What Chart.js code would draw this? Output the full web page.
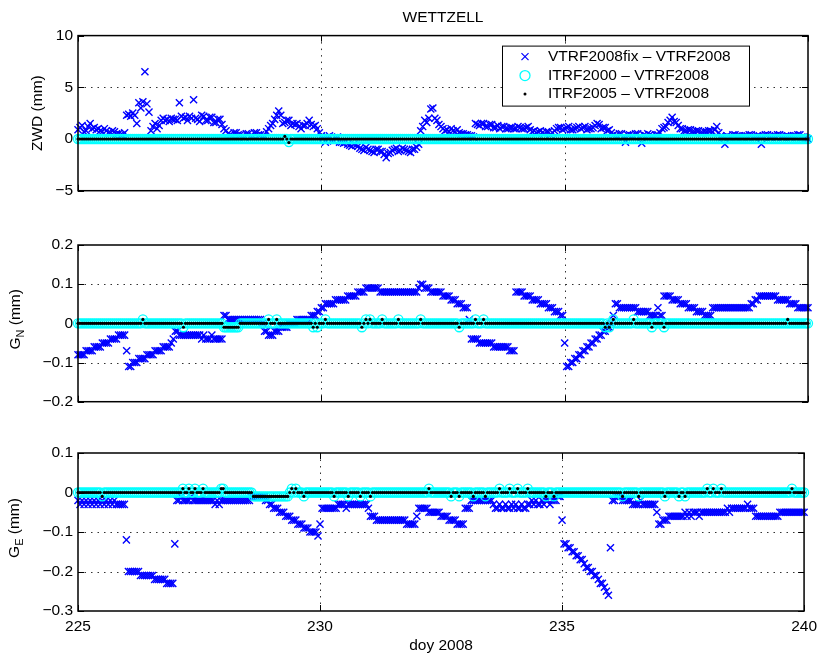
<!DOCTYPE html>
<html><head><meta charset="utf-8">
<script src="https://cdn.jsdelivr.net/npm/chart.js@4.4.1/dist/chart.umd.min.js"></script>
<style>
html,body{margin:0;padding:0;background:#fff;overflow:hidden;width:823px;height:653px;}
canvas{position:absolute;left:0;}
</style></head><body>
<canvas id="c1" width="823" height="205" style="top:0px"></canvas>
<canvas id="c2" width="823" height="201" style="top:215px"></canvas>
<canvas id="c3" width="823" height="233" style="top:420px"></canvas>
<script>
// ---- text ----
const stationTitle = 'WETTZELL';
const xAxisTitle = 'doy 2008';
const seriesLabels = ['VTRF2008fix \u2013 VTRF2008', 'ITRF2000 \u2013 VTRF2008', 'ITRF2005 \u2013 VTRF2008'];
const yTitleParts = [['ZWD', '', ' (mm)'], ['G', 'N', ' (mm)'], ['G', 'E', ' (mm)']];

// ---- ticks ----
const xTicks = [225, 230, 235, 240];
const zwdTicks = [-5, 0, 5, 10];
const gnTicks = [-0.2, -0.1, 0, 0.1, 0.2];
const geTicks = [-0.3, -0.2, -0.1, 0, 0.1];

// ---- sampling: hourly epochs, day 225.0 .. 240.0 (one row per day) ----
const dayStart = 225;
const samplesPerDay = 24;

// ---- ZWD (mm) ----
const zwdFix = [
 0.9,1.1,1.3,0.7,0.8,1.2, 1.5,1.0,1.1,0.9,1.0,0.8, 0.7,1.0,0.8,0.6,0.6,0.8, 0.7,0.5,0.5,0.4,0.4,0.6,
 2.3,2.4,2.2,2.5,2.3,1.5, 3.5,3.0,3.6,6.5,3.4,2.6, 0.8,1.2,1.5,1.0,1.3,1.8, 2.0,1.8,1.9,1.7,2.0,1.9,
 1.9,1.8,3.5,2.2,2.0,2.1, 1.8,2.2,2.0,3.8,2.0,1.9, 1.7,2.3,2.2,1.8,1.8,2.1, 2.1,1.6,1.6,1.9,1.9,1.4,
 1.0,0.8,0.5,0.4,0.3,0.6, 0.6,0.4,0.4,0.3,0.2,0.5, 0.5,0.3,0.3,0.6,0.6,0.4, 0.4,0.3,0.3,0.7,1.0,1.3,
 1.5,1.9,2.3,2.7,2.3,1.5, 1.6,1.8,1.8,1.3,1.5,1.4, 1.5,1.2,1.0,1.3,1.3,1.5, 1.8,1.4,1.2,1.3,1.0,0.6,
 0.3,0.1,-0.3,0.2,0.3,-0.1, -0.2,0.1,0.2,-0.3,-0.3,-0.4, -0.3,-0.5,-0.6,-0.7,-0.5,-0.6, -0.7,-0.9,-1.0,-1.1,-0.8,-1.0,
 -1.1,-1.2,-1.3,-1.0,-1.0,-1.2, -1.2,-1.5,-1.8,-1.4,-1.3,-1.1, -1.0,-0.9,-1.2,-1.1,-0.9,-1.0, -1.1,-1.2,-1.3,-1.0,-1.0,-0.8,
 -0.5,0.8,1.2,1.8,1.6,2.0, 2.9,3.0,2.0,1.8,1.4,1.2, 1.0,0.8,0.9,0.7,1.0,0.8, 0.7,0.9,0.6,0.5,0.5,0.4,
 0.4,0.3,0.3,0.2,1.5,1.4, 1.3,1.5,1.5,1.2,1.2,1.4, 1.4,1.1,1.1,1.3,1.0,1.2, 1.2,1.0,1.0,1.1,1.1,1.0,
 1.0,1.2,1.1,1.0,1.0,1.1, 1.2,0.9,0.7,0.8,0.6,0.7, 0.8,0.6,0.5,0.7,0.7,0.4, 0.6,0.8,1.0,1.1,1.1,0.9,
 1.0,1.1,1.2,0.9,0.9,1.0, 1.1,1.2,1.0,1.1,1.2,0.9, 1.0,1.0,1.1,1.3,1.5,1.4, 1.0,1.1,1.1,0.8,0.9,0.6,
 0.4,0.3,0.3,0.5,0.5,0.2, -0.3,0.4,0.4,0.3,0.3,0.5, 0.5,0.3,-0.4,0.4,0.3,0.5, 0.4,0.3,0.2,0.4,0.4,0.6,
 1.0,1.1,1.2,1.6,1.8,2.1, 1.7,1.6,1.3,1.0,1.0,0.8, 0.8,0.9,0.9,0.7,0.7,0.8, 0.8,0.6,0.6,0.7,0.7,0.8,
 0.8,0.7,0.9,1.2,0.6,0.3, 0.2,-0.5,0.3,0.2,0.2,0.4, 0.4,0.3,0.3,0.2,0.2,0.3, 0.3,0.4,0.4,0.2,0.2,0.3,
 0.3,-0.5,0.3,0.4,0.4,0.2, 0.2,0.3,0.3,0.4,0.4,0.2, 0.2,0.3,0.3,0.2,0.2,0.3, 0.3,0.4,0.4,0.2,0.2,0.1,
 0.0];
const zwdItrf2000 = [
 0,0,0,0,0,0, 0,0,0,0,0,0, 0,0,0,0,0,0, 0,0,0,0,0,0,
 0,0,0,0,0,0, 0,0,0,0,0,0, 0,0,0,0,0,0, 0,0,0,0,0,0,
 0,0,0,0,0,0, 0,0,0,0,0,0, 0,0,0,0,0,0, 0,0,0,0,0,0,
 0,0,0,0,0,0, 0,0,0,0,0,0, 0,0,0,0,0,0, 0,0,0,0,0,0,
 0,0,0,0,0,0, 0,0,-0.3,0,0,0, 0,0,0,0,0,0, 0,0,0,0,0,0,
 0,0,0,0,0,0, 0,0,0,0,0,0, 0,0,0,0,0,0, 0,0,0,0,0,0,
 0,0,0,0,0,0, 0,0,0,0,0,0, 0,0,0,0,0,0, 0,0,0,0,0,0,
 0,0,0,0,0,0, 0,0,0,0,0,0, 0,0,0,0,0,0, 0,0,0,0,0,0,
 0,0,0,0,0,0, 0,0,0,0,0,0, 0,0,0,0,0,0, 0,0,0,0,0,0,
 0,0,0,0,0,0, 0,0,0,0,0,0, 0,0,0,0,0,0, 0,0,0,0,0,0,
 0,0,0,0,0,0, 0,0,0,0,0,0, 0,0,0,0,0,0, 0,0,0,0,0,0,
 0,0,0,0,0,0, 0,0,0,0,0,0, 0,0,0,0,0,0, 0,0,0,0,0,0,
 0,0,0,0,0,0, 0,0,0,0,0,0, 0,0,0,0,0,0, 0,0,0,0,0,0,
 0,0,0,0,0,0, 0,0,0,0,0,0, 0,0,0,0,0,0, 0,0,0,0,0,0,
 0,0,0,0,0,0, 0,0,0,0,0,0, 0,0,0,0,0,0, 0,0,0,0,0,0,
 0];
const zwdItrf2005 = [
 0,0,0,0,0,0, 0,0,0,0,0,0, 0,0,0,0,0,0, 0,0,0,0,0,0,
 0,0,0,0,0,0, 0,0,0,0,0,0, 0,0,0,0,0,0, 0,0,0,0,0,0,
 0,0,0,0,0,0, 0,0,0,0,0,0, 0,0,0,0,0,0, 0,0,0,0,0,0,
 0,0,0,0,0,0, 0,0,0,0,0,0, 0,0,0,0,0,0, 0,0,0,0,0,0,
 0,0,0,0,0,0, 0.25,0,-0.35,0,0,0, 0,0,0,0,0,0, 0,0,0,0,0,0,
 0,0,0,0,0,0, 0,0,0,0,0,0, 0,0,0,0,0,0, 0,0,0,0,0,0,
 0,0,0,0,0,0, 0,0,0,0,0,0, 0,0,0,0,0,0, 0,0,0,0,0,0,
 0,0,0,0,0,0, 0,0,0,0,0,0, 0,0,0,0,0,0, 0,0,0,0,0,0,
 0,0,0,0,0,0, 0,0,0,0,0,0, 0,0,0,0,0,0, 0,0,0,0,0,0,
 0,0,0,0,0,0, 0,0,0,0,0,0, 0,0,0,0,0,0, 0,0,0,0,0,0,
 0,0,0,0,0,0, 0,0,0,0,0,0, 0,0,0,0,0,0, 0,0,0,0,0,0,
 0,0,0,0,0,0, 0,0,0,0,0,0, 0,0,0,0,0,0, 0,0,0,0,0,0,
 0,0,0,0,0,0, 0,0,0,0,0,0, 0,0,0,0,0,0, 0,0,0,0,0,0,
 0,0,0,0,0,0, 0,0,0,0,0,0, 0,0,0,0,0,0, 0,0,0,0,0,0,
 0,0,0,0,0,0, 0,0,0,0,0,0, 0,0,0,0,0,0, 0,0,0,0,0,0,
 0];

// ---- G_N (mm) ----
const gnFix = [
 -0.08,-0.08,-0.08,-0.08,-0.07,-0.07, -0.07,-0.07,-0.06,-0.06,-0.06,-0.06, -0.05,-0.05,-0.05,-0.05,-0.04,-0.04, -0.04,-0.04,-0.03,-0.03,-0.03,-0.03,
 -0.07,-0.11,-0.11,-0.10,-0.10,-0.10, -0.09,-0.09,-0.09,-0.09,-0.08,-0.08, -0.08,-0.08,-0.07,-0.07,-0.07,-0.07, -0.06,-0.06,-0.06,-0.06,-0.05,-0.04,
 -0.02,-0.02,-0.03,-0.03,-0.03,-0.03, -0.03,-0.03,-0.03,-0.03,-0.03,-0.03, -0.03,-0.04,-0.03,-0.04,-0.04,-0.04, -0.03,-0.04,-0.04,-0.04,-0.04,-0.04,
 0.02,0.02,0.01,0.01,0.01,0.01, 0.01,0.01,0.01,0.01,0.01,0.01, 0.01,0.01,0.01,0.01,0.01,0.01, 0.01,0.00,-0.02,-0.02,-0.03,-0.03,
 -0.03,-0.02,-0.02,-0.02,-0.01,-0.01, -0.01,-0.01,0.00,0.00,0.00,0.00, 0.01,0.01,0.01,0.01,0.01,0.01, 0.01,0.02,0.02,0.02,0.03,0.03,
 0.04,0.04,0.05,0.05,0.05,0.05, 0.05,0.06,0.06,0.06,0.06,0.06, 0.06,0.07,0.07,0.07,0.07,0.07, 0.08,0.08,0.08,0.08,0.09,0.09,
 0.09,0.09,0.09,0.09,0.09,0.08, 0.08,0.08,0.08,0.08,0.08,0.08, 0.08,0.08,0.08,0.08,0.08,0.08, 0.08,0.08,0.08,0.08,0.08,0.08,
 0.09,0.10,0.10,0.09,0.09,0.09, 0.08,0.08,0.08,0.08,0.08,0.08, 0.07,0.07,0.07,0.07,0.06,0.06, 0.06,0.05,0.05,0.05,0.04,0.04,
 0.04,0.01,-0.04,-0.04,-0.04,-0.04, -0.05,-0.05,-0.05,-0.05,-0.05,-0.05, -0.05,-0.06,-0.06,-0.06,-0.06,-0.06, -0.06,-0.06,-0.06,-0.07,-0.07,-0.07,
 0.08,0.08,0.08,0.08,0.07,0.07, 0.07,0.07,0.06,0.06,0.06,0.06, 0.05,0.05,0.05,0.05,0.04,0.04, 0.04,0.03,0.03,0.03,0.02,0.02,
 -0.05,-0.11,-0.11,-0.10,-0.10,-0.09, -0.09,-0.08,-0.08,-0.07,-0.07,-0.06, -0.06,-0.05,-0.05,-0.04,-0.04,-0.03, -0.03,-0.02,-0.02,-0.01,-0.01,0.00,
 0.02,0.05,0.05,0.04,0.04,0.04, 0.04,0.04,0.04,0.04,0.04,0.04, 0.03,0.03,0.03,0.03,0.03,0.03, 0.02,0.02,0.02,0.02,0.04,0.02,
 0.02,0.07,0.07,0.07,0.07,0.06, 0.06,0.06,0.06,0.05,0.05,0.05, 0.05,0.04,0.04,0.04,0.04,0.03, 0.03,0.03,0.03,0.02,0.02,0.02,
 0.02,0.04,0.04,0.04,0.04,0.04, 0.04,0.04,0.04,0.04,0.04,0.04, 0.04,0.04,0.04,0.04,0.04,0.04, 0.04,0.04,0.05,0.05,0.06,0.06,
 0.07,0.07,0.07,0.07,0.07,0.07, 0.07,0.07,0.07,0.06,0.06,0.06, 0.06,0.06,0.06,0.05,0.05,0.05, 0.05,0.04,0.04,0.04,0.04,0.04,
 0.04];
const gnItrf2000 = [
 0,0,0,0,0,0, 0,0,0,0,0,0, 0,0,0,0,0,0, 0,0,0,0,0,0,
 0,0,0,0,0,0, 0,0,0.01,0,0,0, 0,0,0,0,0,0, 0,0,0,0,0,0,
 0,0,0,0,-0.01,0, 0,0,0,0,0,0, 0,0,0,0,0,0, 0,0,0,0,0,0,
 -0.01,-0.01,-0.01,-0.01,-0.01,-0.01, -0.01,-0.01,0,0,0,0, 0,0,0,0,0,0, 0,0,0,0,0.01,0,
 0,0,0.01,0,0,0, 0,0,0,0,0,0, 0,0,0,0,0,0, 0,0,-0.01,0,-0.01,0,
 0,0,0.01,0,0,0, 0,0,0,0,0,0, 0,0,0,0,0,0, 0,0,-0.01,0,0.01,0,
 0.01,0,0,0,0,0, 0.01,0,0,0,0,0, 0,0,0.01,0,0,0, 0,0,0,0,0,0,
 0,0.01,0,0,0,0, 0,0,0,0,0,0, 0,0,0,0,0,0, 0,0,-0.01,0,0,0,
 0,0,0,0,0.01,0, 0,0,0.01,0,0,0, 0,0,0,0,0,0, 0,0,0,0,0,0,
 0,0,0,0,0,0, 0,0,0,0,0,0, 0,0,0,0,0,0, 0,0,0,0,0,0,
 0,0,0,0,0,0, 0,0,0,0,0,0, 0,0,0,0,0,0, 0,0,-0.01,0,-0.01,0,
 0.01,0,0,0,0,0, 0,0,0,0,0.01,0, 0,0,0,0,0,0, 0,-0.01,0,0,0,0,
 0,-0.01,0,0,0,0, 0,0,0,0,0,0, 0,0,0,0,0,0, 0,0,0,0,0,0,
 0,0,0,0,0,0, 0,0,0,0,0,0, 0,0,0,0,0,0, 0,0,0,0,0,0,
 0,0,0,0,0,0, 0,0,0,0,0,0, 0,0,0,0,0,0, 0,0,0,0,0,0,
 0];
const gnItrf2005 = [
 0,0,0,0,0,0, 0,0,0,0,0,0, 0,0,0,0,0,0, 0,0,0,0,0,0,
 0,0,0,0,0,0, 0,0,0.01,0,0,0, 0,0,0,0,0,0, 0,0,0,0,0,0,
 0,0,0,0,-0.01,0, 0,0,0,0,0,0, 0,0,0,0,0,0, 0,0,0,0,0,0,
 -0.01,-0.01,-0.01,-0.01,-0.01,-0.01, -0.01,-0.01,0,0,0,0, 0,0,0,0,0,0, 0,0,0,0,0.01,0,
 0,0,0.01,0,0,0, 0,0,0,0,0,0, 0,0,0,0,0,0, 0,0,-0.01,0,-0.01,0,
 0,0,0.01,0,0,0, 0,0,0,0,0,0, 0,0,0,0,0,0, 0,0,-0.01,0,0.01,0,
 0.01,0,0,0,0,0, 0.01,0,0,0,0,0, 0,0,0.01,0,0,0, 0,0,0,0,0,0,
 0,0.01,0,0,0,0, 0,0,0,0,0,0, 0,0,0,0,0,0, 0,0,-0.01,0,0,0,
 0,0,0,0,0.01,0, 0,0,0.01,0,0,0, 0,0,0,0,0,0, 0,0,0,0,0,0,
 0,0,0,0,0,0, 0,0,0,0,0,0, 0,0,0,0,0,0, 0,0,0,0,0,0,
 0,0,0,0,0,0, 0,0,0,0,0,0, 0,0,0,0,0,0, 0,0,-0.01,0,-0.01,0,
 0.01,0,0,0,0,0, 0,0,0,0,0.01,0, 0,0,0,0,0,0, 0,-0.01,0,0,0,0,
 0,-0.01,0,0,0,0, 0,0,0,0,0,0, 0,0,0,0,0,0, 0,0,0,0,0,0,
 0,0,0,0,0,0, 0,0,0,0,0,0, 0,0,0,0,0,0, 0,0,0,0,0,0,
 0,0,0,0,0,0, 0,0,0,0,0,0, 0,0,0.01,0,0,0, 0,0,0,0,0,0,
 0];

// ---- G_E (mm) ----
const geFix = [
 -0.02,-0.03,-0.02,-0.03,-0.02,-0.03, -0.02,-0.03,-0.02,-0.03,-0.02,-0.03, -0.02,-0.03,-0.02,-0.03,-0.02,-0.03, -0.02,-0.03,-0.03,-0.03,-0.03,-0.03,
 -0.12,-0.20,-0.20,-0.20,-0.20,-0.20, -0.20,-0.21,-0.21,-0.21,-0.21,-0.21, -0.21,-0.21,-0.22,-0.22,-0.22,-0.22, -0.22,-0.22,-0.23,-0.23,-0.23,-0.23,
 -0.13,-0.02,-0.02,-0.01,-0.02,-0.02, -0.02,-0.02,-0.01,-0.02,-0.02,-0.02, -0.02,-0.02,-0.02,-0.02,-0.02,-0.02, -0.02,-0.02,-0.03,-0.02,-0.03,-0.02,
 -0.02,-0.02,-0.02,-0.02,-0.02,-0.02, -0.02,-0.02,-0.02,-0.02,-0.02,-0.02, -0.02,-0.02,-0.01,-0.01,-0.01,-0.01, -0.01,-0.01,-0.01,-0.02,-0.02,-0.03,
 -0.03,-0.04,-0.04,-0.04,-0.05,-0.05, -0.05,-0.06,-0.06,-0.06,-0.07,-0.07, -0.07,-0.08,-0.08,-0.08,-0.09,-0.09, -0.09,-0.10,-0.10,-0.10,-0.10,-0.11,
 -0.08,-0.04,-0.04,-0.04,-0.04,-0.04, -0.04,-0.04,-0.04,-0.03,-0.03,-0.03, -0.03,-0.04,-0.03,-0.03,-0.03,-0.03, -0.03,-0.03,-0.03,-0.03,-0.03,-0.03,
 -0.04,-0.06,-0.06,-0.06,-0.07,-0.07, -0.07,-0.07,-0.07,-0.07,-0.07,-0.07, -0.07,-0.07,-0.07,-0.07,-0.07,-0.07, -0.07,-0.08,-0.08,-0.08,-0.08,-0.08,
 -0.06,-0.04,-0.04,-0.04,-0.04,-0.04, -0.05,-0.05,-0.05,-0.05,-0.05,-0.05, -0.06,-0.06,-0.06,-0.06,-0.07,-0.07, -0.07,-0.07,-0.08,-0.08,-0.08,-0.08,
 -0.04,-0.04,-0.04,-0.02,-0.02,-0.02, -0.02,-0.02,-0.02,-0.02,-0.02,-0.02, -0.02,-0.02,-0.03,-0.04,-0.04,-0.03, -0.04,-0.04,-0.03,-0.04,-0.04,-0.03,
 -0.04,-0.03,-0.04,-0.04,-0.03,-0.04, -0.04,-0.03,-0.03,-0.02,-0.03,-0.02, -0.03,-0.03,-0.02,-0.03,-0.02,-0.02, -0.03,-0.02,-0.02,-0.02,-0.01,-0.01,
 -0.07,-0.13,-0.13,-0.14,-0.14,-0.15, -0.15,-0.16,-0.16,-0.17,-0.17,-0.18, -0.19,-0.19,-0.20,-0.20,-0.21,-0.21, -0.22,-0.23,-0.23,-0.24,-0.25,-0.26,
 -0.14,-0.02,-0.02,-0.01,-0.01,-0.01, -0.02,-0.02,-0.02,-0.02,-0.02,-0.03, -0.03,-0.03,-0.03,-0.02,-0.03,-0.03, -0.03,-0.03,-0.03,-0.03,-0.03,-0.05,
 -0.08,-0.08,-0.07,-0.07,-0.07,-0.06, -0.06,-0.06,-0.06,-0.06,-0.06,-0.06, -0.06,-0.05,-0.06,-0.05,-0.06,-0.05, -0.05,-0.05,-0.06,-0.05,-0.05,-0.05,
 -0.05,-0.05,-0.05,-0.05,-0.05,-0.05, -0.05,-0.05,-0.05,-0.05,-0.04,-0.05, -0.04,-0.04,-0.04,-0.04,-0.04,-0.04, -0.04,-0.04,-0.03,-0.04,-0.04,-0.04,
 -0.06,-0.06,-0.06,-0.06,-0.06,-0.06, -0.06,-0.06,-0.06,-0.06,-0.06,-0.06, -0.05,-0.05,-0.05,-0.05,-0.05,-0.05, -0.05,-0.05,-0.05,-0.05,-0.05,-0.05,
 -0.05];
const geItrf2000 = [
 0,0,0,0,0,0, 0,0,0,0,0,0, -0.01,0,0,0,0,0, 0,0,0,0,0,0,
 0,0,0,0,0,0, 0,0,0,0,0,0, 0,0,0,0,0,0, 0,0,0,0,0,0,
 0,0,0,0,0.01,0, 0,0.01,0,0,0.01,0, 0,0,0.01,0,0,0, 0,0,0,0,0,0.01,
 0.01,0,0,0,0,0, 0,0,0,0,0,0, 0,0,0,-0.01,-0.01,-0.01, -0.01,-0.01,-0.01,-0.01,-0.01,-0.01,
 -0.01,-0.01,-0.01,-0.01,-0.01,-0.01, -0.01,-0.01,-0.01,0,0.01,0, 0.01,0,0,0,-0.01,0, 0,0,0,0,0,0,
 0,0,0,0,0,0, 0,-0.01,0,0,0,0, 0,0,-0.01,0,0,0, 0,0,-0.01,0,0,0,
 0,-0.01,0,0,0,0, 0,0,0,0,0,0, 0,0,0,0,0,0, 0,0,0,0,0,0,
 0,0,0,0,0,0, 0.01,0,0,0,0,0, 0,0,0,0,0,-0.01, 0,0,0,-0.01,0,0,
 0,0,0,0,-0.01,0, 0,0,0,0,-0.01,0, 0,0,0,0,0,0.01, 0,0,0,0,0.01,0,
 0,0,0.01,0,0,0, 0,0.01,0,0,0,0, 0,0,0,0,-0.01,0, 0,0,-0.01,0,0,0,
 0,0,0,0,0,0, 0,0,0,0,0,0, 0,0,0,0,0,0, 0,0,0,0,0,0,
 0,0,0,0,0,0, -0.01,0,0,0,0,0, 0,0,-0.01,0,0,0, 0,0,0,0,0,0,
 0,0,0,-0.01,0,0, 0,0,0,0,-0.01,0, 0,-0.01,0,0,0,0, 0,0,0,0,0,0,
 0.01,0,0,0.01,0,0, 0,0.01,0,0,0,0, 0,0,0,0,0,0, 0,0,0,0,0,0,
 0,0,0,0,0,0, 0,0,0,0,0,0, 0,0,0,0,0,0, 0.01,0,0,0,0,0,
 0];
const geItrf2005 = [
 0,0,0,0,0,0, 0,0,0,0,0,0, -0.01,0,0,0,0,0, 0,0,0,0,0,0,
 0,0,0,0,0,0, 0,0,0,0,0,0, 0,0,0,0,0,0, 0,0,0,0,0,0,
 0,0,0,0,0.01,0, 0,0.01,0,0,0.01,0, 0,0,0.01,0,0,0, 0,0,0,0,0,0.01,
 0.01,0,0,0,0,0, 0,0,0,0,0,0, 0,0,0,-0.01,-0.01,-0.01, -0.01,-0.01,-0.01,-0.01,-0.01,-0.01,
 -0.01,-0.01,-0.01,-0.01,-0.01,-0.01, -0.01,-0.01,-0.01,0,0.01,0, 0.01,0,0,0,-0.01,0, 0,0,0,0,0,0,
 0,0,0,0,0,0, 0,-0.01,0,0,0,0, 0,0,-0.01,0,0,0, 0,0,-0.01,0,0,0,
 0,-0.01,0,0,0,0, 0,0,0,0,0,0, 0,0,0,0,0,0, 0,0,0,0,0,0,
 0,0,0,0,0,0, 0.01,0,0,0,0,0, 0,0,0,0,0,-0.01, 0,0,0,-0.01,0,0,
 0,0,0,0,-0.01,0, 0,0,0,0,-0.01,0, 0,0,0,0,0,0.01, 0,0,0,0,0.01,0,
 0,0,0.01,0,0,0, 0,0.01,0,0,0,0, 0,0,0,0,-0.01,0, 0,0,-0.01,0,0,0,
 0,0,0,0,0,0, 0,0,0,0,0,0, 0,0,0,0,0,0, 0,0,0,0,0,0,
 0,0,0,0,0,0, -0.01,0,0,0,0,0, 0,0,-0.01,0,0,0, 0,0,0,0,0,0,
 0,0,0,-0.01,0,0, 0,0,0,0,-0.01,0, 0,-0.01,0,0,0,0, 0,0,0,0,0,0,
 0.01,0,0,0.01,0,0, 0,0.01,0,0,0,0, 0,0,0,0,0,0, 0,0,0,0,0,0,
 0,0,0,0,0,0, 0,0,0,0,0,0, 0,0,0,0,0,0, 0.01,0,0,0,0,0,
 0];

// epoch of each sample (day of year)
const doy = zwdFix.map((_, i) => dayStart + i / samplesPerDay);

// ---- styling ----
const FONT = '"Liberation Sans", Arial, Helvetica, sans-serif';
const FS = 15.5;
const BLUE = '#0000ff', CYAN = '#00ffff', BLACK = '#000000';

function fmtTick(v) {
  const r = Math.round(v * 100) / 100;
  if (r === 0) return '0';
  return String(r).replace('-', '\u2212');
}

function pts(arr) { return arr.map((v, i) => ({ x: doy[i], y: v })); }

function mkDatasets(fix, a2000, a2005) {
  return [
    { label: seriesLabels[0], data: pts(fix), pointStyle: 'crossRot', pointRadius: 5,
      pointBorderColor: BLUE, pointBackgroundColor: BLUE, pointBorderWidth: 1.4,
      borderColor: BLUE, showLine: false, order: 3, clip: false },
    { label: seriesLabels[1], data: pts(a2000), pointStyle: 'circle', pointRadius: 4.5,
      pointBorderColor: CYAN, pointBackgroundColor: 'rgba(0,0,0,0)', pointBorderWidth: 1.3,
      borderColor: CYAN, showLine: false, order: 2, clip: false },
    { label: seriesLabels[2], data: pts(a2005), pointStyle: 'circle', pointRadius: 1.6,
      pointBorderColor: BLACK, pointBackgroundColor: BLACK, pointBorderWidth: 0,
      borderColor: BLACK, showLine: false, order: 1, clip: false }
  ];
}

function drawMarker(ctx, style, x, y) {
  ctx.save();
  ctx.setLineDash([]);
  if (style === 0) {
    const d = 5 * Math.SQRT1_2;
    ctx.strokeStyle = BLUE; ctx.lineWidth = 1.2;
    ctx.beginPath();
    ctx.moveTo(x - d, y - d); ctx.lineTo(x + d, y + d);
    ctx.moveTo(x - d, y + d); ctx.lineTo(x + d, y - d);
    ctx.stroke();
  } else if (style === 1) {
    ctx.strokeStyle = CYAN; ctx.lineWidth = 1.3;
    ctx.beginPath(); ctx.arc(x, y, 5, 0, Math.PI * 2); ctx.stroke();
  } else {
    ctx.fillStyle = BLACK;
    ctx.beginPath(); ctx.arc(x, y, 1.5, 0, Math.PI * 2); ctx.fill();
  }
  ctx.restore();
}

const matlabAxes = {
  id: 'matlabAxes',
  beforeDatasetsDraw(chart, args, opts) {
    const { ctx, chartArea: a } = chart;
    const xs = chart.scales.x, ys = chart.scales.y;
    ctx.save();
    ctx.strokeStyle = '#333';
    ctx.lineWidth = 1;
    ctx.setLineDash([1.5, 5]);
    xTicks.forEach(v => {
      if (v <= xs.min || v >= xs.max) return;
      const px = Math.round(xs.getPixelForValue(v)) + 0.5;
      ctx.beginPath(); ctx.moveTo(px, a.top); ctx.lineTo(px, a.bottom); ctx.stroke();
    });
    opts.yTicks.forEach(v => {
      if (v <= ys.min || v >= ys.max) return;
      const py = Math.round(ys.getPixelForValue(v)) + 0.5;
      ctx.beginPath(); ctx.moveTo(a.left, py); ctx.lineTo(a.right, py); ctx.stroke();
    });
    ctx.restore();
  },
  afterDatasetsDraw(chart, args, opts) {
    const { ctx, chartArea: a } = chart;
    const xs = chart.scales.x, ys = chart.scales.y;
    ctx.save();
    ctx.setLineDash([]);
    // inner tick marks
    ctx.strokeStyle = BLACK; ctx.lineWidth = 1;
    const tl = 6;
    xTicks.forEach(v => {
      const px = Math.round(xs.getPixelForValue(v)) + 0.5;
      ctx.beginPath();
      ctx.moveTo(px, a.bottom); ctx.lineTo(px, a.bottom - tl);
      ctx.moveTo(px, a.top); ctx.lineTo(px, a.top + tl);
      ctx.stroke();
    });
    opts.yTicks.forEach(v => {
      const py = Math.round(ys.getPixelForValue(v)) + 0.5;
      ctx.beginPath();
      ctx.moveTo(a.left, py); ctx.lineTo(a.left + tl, py);
      ctx.moveTo(a.right, py); ctx.lineTo(a.right - tl, py);
      ctx.stroke();
    });
    // box
    ctx.lineWidth = 1.5;
    ctx.strokeRect(a.left, a.top, a.right - a.left, a.bottom - a.top);

    // y title (rotated, with optional subscript)
    const parts = opts.titleParts;
    const big = FS + 'px ' + FONT, small = '11px ' + FONT;
    ctx.font = big;
    const w0 = ctx.measureText(parts[0]).width;
    const w2 = ctx.measureText(parts[2]).width;
    ctx.font = small;
    const w1 = parts[1] ? ctx.measureText(parts[1]).width : 0;
    const total = w0 + w1 + w2;
    ctx.translate(opts.titleX, (a.top + a.bottom) / 2 + opts.titleDy);
    ctx.rotate(-Math.PI / 2);
    ctx.fillStyle = BLACK;
    ctx.textBaseline = 'middle';
    ctx.textAlign = 'left';
    let sx = -total / 2;
    ctx.font = big; ctx.fillText(parts[0], sx, 0); sx += w0;
    if (parts[1]) { ctx.font = small; ctx.fillText(parts[1], sx, 5); sx += w1; }
    ctx.font = big; ctx.fillText(parts[2], sx, 0);
    ctx.restore();

    // legend
    if (opts.legend) {
      ctx.save();
      const lx = a.right - 306, ly = a.top + 10, lw = 247, lh = 60;
      ctx.fillStyle = '#ffffff';
      ctx.fillRect(lx, ly, lw, lh);
      ctx.strokeStyle = BLACK; ctx.lineWidth = 1;
      ctx.strokeRect(lx + 0.5, ly + 0.5, lw, lh);
      const rows = [ly + 11, ly + 30, ly + 48.5];
      ctx.font = FS + 'px ' + FONT;
      ctx.textBaseline = 'middle';
      ctx.textAlign = 'left';
      seriesLabels.forEach((lab, i) => {
        drawMarker(ctx, i, lx + 23, rows[i]);
        ctx.fillStyle = BLACK;
        ctx.fillText(lab, lx + 46, rows[i]);
      });
      ctx.restore();
    }
  }
};

function mkOptions(cfg) {
  return {
    responsive: false,
    animation: false,
    events: [],
    devicePixelRatio: 1,
    layout: { padding: { left: 0, right: 15, top: cfg.padTop, bottom: cfg.padBottom } },
    plugins: {
      legend: { display: false },
      tooltip: { enabled: false },
      title: cfg.title ? {
        display: true, text: cfg.title, color: BLACK, fullSize: false,
        font: { family: FONT, size: FS, weight: 'normal' },
        padding: { top: 0, bottom: 9 }
      } : { display: false },
      matlabAxes: { yTicks: cfg.yTicks, titleParts: cfg.titleParts, titleX: cfg.titleX, titleDy: cfg.titleDy || 0, legend: !!cfg.legend }
    },
    scales: {
      x: {
        type: 'linear', min: xTicks[0], max: xTicks[xTicks.length - 1],
        display: cfg.showX,
        afterBuildTicks: s => { s.ticks = xTicks.map(v => ({ value: v })); },
        afterFit: s => { if (cfg.showX) s.height = 42; },
        grid: { display: false, drawTicks: false },
        border: { display: false },
        ticks: { color: BLACK, font: { family: FONT, size: FS }, padding: 6, maxRotation: 0, autoSkip: false,
                 callback: v => String(v) },
        title: cfg.showX ? { display: true, text: xAxisTitle, color: BLACK,
                 font: { family: FONT, size: FS, lineHeight: 1 }, padding: { top: 0, bottom: 0 } } : { display: false }
      },
      y: {
        type: 'linear', min: cfg.yTicks[0], max: cfg.yTicks[cfg.yTicks.length - 1],
        afterBuildTicks: s => { s.ticks = cfg.yTicks.map(v => ({ value: v })); },
        afterFit: s => { s.width = 78; },
        grid: { display: false, drawTicks: false },
        border: { display: false },
        ticks: { color: BLACK, font: { family: FONT, size: FS }, padding: 5, autoSkip: false,
                 callback: v => fmtTick(v) }
      }
    }
  };
}

new Chart(document.getElementById('c1'), {
  type: 'scatter',
  data: { datasets: mkDatasets(zwdFix, zwdItrf2000, zwdItrf2005) },
  options: mkOptions({ padTop: 8, padBottom: 12, title: stationTitle, yTicks: zwdTicks,
                       titleParts: yTitleParts[0], titleX: 38, showX: false, legend: true }),
  plugins: [matlabAxes]
});
new Chart(document.getElementById('c2'), {
  type: 'scatter',
  data: { datasets: mkDatasets(gnFix, gnItrf2000, gnItrf2005) },
  options: mkOptions({ padTop: 30, padBottom: 12, yTicks: gnTicks,
                       titleParts: yTitleParts[1], titleX: 16, titleDy: -4, showX: false }),
  plugins: [matlabAxes]
});
new Chart(document.getElementById('c3'), {
  type: 'scatter',
  data: { datasets: mkDatasets(geFix, geItrf2000, geItrf2005) },
  options: mkOptions({ padTop: 33, padBottom: 0, yTicks: geTicks,
                       titleParts: yTitleParts[2], titleX: 15, titleDy: -4, showX: true }),
  plugins: [matlabAxes]
});
</script>
</body></html>
